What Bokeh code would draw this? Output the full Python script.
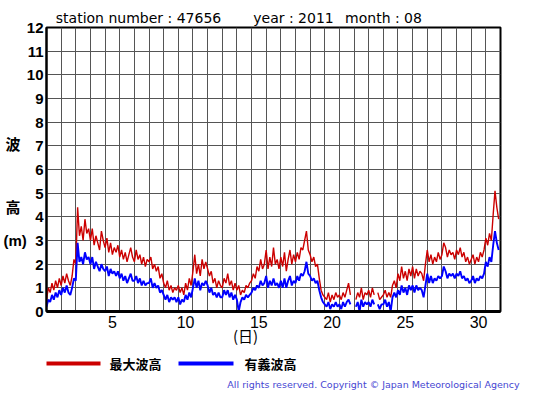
import numpy as np
from bokeh.plotting import figure
from bokeh.layouts import column
from bokeh.models import Range1d, FixedTicker, LinearAxis
from bokeh.core.properties import value
from bokeh.embed import file_html
from bokeh.resources import INLINE

nan = float("nan")

# 3-hourly values, one row per day (00,03,...,21h), August 2011, station 47656
max_wave = [
    0.5, 1.0, 0.8, 1.2, 0.9, 1.3, 1.0, 1.4,   # 1
    1.1, 1.5, 1.2, 1.6, 1.3, 1.1, 1.5, 2.2,   # 2
    2.0, 4.4, 3.2, 3.6, 3.0, 3.9, 3.3, 3.5,   # 3
    3.0, 3.5, 2.8, 3.2, 2.9, 2.6, 3.4, 3.0,   # 4
    2.7, 3.1, 2.5, 2.9, 2.4, 2.7, 2.5, 2.8,   # 5
    2.3, 2.6, 2.2, 2.5, 2.1, 2.4, 2.7, 2.3,   # 6
    2.1, 2.6, 2.2, 2.4, 2.0, 2.3, 1.9, 2.2,   # 7
    2.1, 2.3, 1.8, 2.0, 1.7, 1.9, 1.4, 1.6,   # 8
    1.2, 1.0, 1.3, 0.9, 1.1, 0.8, 1.0, 0.9,   # 9
    1.1, 0.8, 1.0, 0.7, 1.2, 0.9, 1.4, 1.1,   # 10
    1.7, 2.4, 1.6, 2.0, 1.5, 2.2, 1.8, 2.1,   # 11
    1.8, 1.5, 1.7, 1.2, 1.4, 1.0, 1.3, 1.1,   # 12
    1.0, 1.4, 1.2, 1.6, 1.1, 1.3, 0.9, 1.2,   # 13
    0.9, 1.1, 0.7, 0.9, 0.8, 1.1, 1.0, 1.2,   # 14
    1.3, 1.6, 1.4, 1.9, 1.7, 2.2, 1.8, 2.0,   # 15
    2.6, 1.8, 2.3, 1.9, 2.7, 2.0, 2.2, 1.8,   # 16
    2.3, 1.9, 2.5, 1.7, 2.2, 2.6, 2.0, 2.4,   # 17
    2.1, 2.5, 2.2, 2.7, 2.6, 3.0, 3.4, 2.6,   # 18
    2.4, 2.1, 2.3, 1.9, 2.0, 1.4, 0.9, 0.7,   # 19
    0.6, 0.5, 0.8, 0.4, 0.7, 0.5, 0.8, 0.6,   # 20
    0.7, 0.5, 0.8, 0.6, 0.9, 1.2, 0.7, nan,   # 21
    nan, 0.5, 0.8, 0.6, 1.0, 0.5, 0.8, 0.7,   # 22
    0.9, 0.6, 1.0, 0.7, nan, 0.8, 0.5, 0.6,   # 23
    0.7, 0.9, 0.6, 0.8, 0.6, 1.1, 1.3, 1.0,   # 24
    1.6, 1.3, 1.9, 1.4, 1.7, 1.3, 1.8, 1.5,   # 25
    1.9, 1.4, 1.8, 1.5, 1.7, 1.6, 1.3, 2.0,   # 26
    2.6, 2.1, 2.4, 2.0, 2.3, 2.1, 2.5, 2.2,   # 27
    2.4, 2.9, 2.7, 2.3, 2.6, 2.4, 2.5, 2.2,   # 28
    2.6, 2.4, 2.7, 2.3, 2.5, 2.1, 2.3, 2.0,   # 29
    2.2, 2.4, 2.0, 2.3, 2.1, 2.5, 2.3, 2.6,   # 30
    3.1, 2.8, 3.3, 3.0, 4.1, 5.1, 4.4, 3.9,   # 31
]
sig_wave = [
    0.2, 0.5, 0.4, 0.7, 0.5, 0.8, 0.6, 0.9,   # 1
    0.7, 1.0, 0.8, 1.1, 0.8, 0.7, 1.0, 1.4,   # 2
    1.3, 2.9, 2.1, 2.3, 2.0, 2.5, 2.2, 2.3,   # 3
    2.0, 2.3, 1.8, 2.1, 1.9, 1.7, 2.0, 1.8,   # 4
    1.7, 1.9, 1.5, 1.8, 1.6, 1.7, 1.5, 1.7,   # 5
    1.4, 1.6, 1.3, 1.5, 1.2, 1.4, 1.6, 1.3,   # 6
    1.3, 1.5, 1.2, 1.4, 1.1, 1.3, 1.1, 1.2,   # 7
    1.2, 1.4, 1.0, 1.2, 1.0, 1.1, 0.8, 0.9,   # 8
    0.7, 0.5, 0.7, 0.4, 0.6, 0.5, 0.6, 0.4,   # 9
    0.6, 0.3, 0.5, 0.4, 0.7, 0.5, 0.8, 0.6,   # 10
    1.0, 1.4, 1.0, 1.3, 0.9, 1.2, 1.1, 1.3,   # 11
    1.1, 0.8, 1.0, 0.7, 0.8, 0.6, 0.8, 0.6,   # 12
    0.6, 0.9, 0.7, 0.9, 0.6, 0.8, 0.5, 0.7,   # 13
    0.5, 0.0, 0.4, 0.6, 0.5, 0.7, 0.6, 0.7,   # 14
    0.8, 1.0, 0.9, 1.1, 1.0, 1.3, 1.1, 1.2,   # 15
    1.5, 1.0, 1.3, 1.1, 1.4, 1.1, 1.2, 1.0,   # 16
    1.3, 1.0, 1.4, 1.0, 1.3, 1.5, 1.1, 1.3,   # 17
    1.2, 1.5, 1.3, 1.6, 1.5, 1.7, 2.1, 1.6,   # 18
    1.5, 1.3, 1.4, 1.2, 1.3, 0.9, 0.6, 0.4,   # 19
    0.3, 0.2, 0.4, 0.1, 0.3, 0.2, 0.4, 0.2,   # 20
    0.3, 0.1, 0.4, 0.2, 0.4, 0.5, 0.3, nan,   # 21
    nan, 0.2, 0.4, 0.0, 0.5, 0.2, 0.4, 0.3,   # 22
    0.4, 0.2, 0.5, 0.3, nan, 0.3, 0.1, 0.3,   # 23
    0.3, 0.5, 0.2, 0.4, 0.0, 0.6, 0.8, 0.6,   # 24
    0.9, 0.7, 1.1, 0.8, 1.0, 0.7, 1.1, 0.9,   # 25
    1.1, 0.8, 1.1, 0.9, 1.0, 0.9, 0.6, 1.1,   # 26
    1.6, 1.2, 1.5, 1.2, 1.4, 1.3, 1.5, 1.4,   # 27
    1.5, 1.9, 1.7, 1.4, 1.6, 1.5, 1.6, 1.4,   # 28
    1.6, 1.5, 1.7, 1.4, 1.5, 1.3, 1.4, 1.2,   # 29
    1.3, 1.5, 1.2, 1.4, 1.3, 1.5, 1.4, 1.6,   # 30
    2.1, 1.9, 2.3, 2.1, 2.8, 3.4, 2.9, 2.6,   # 31
]
step_hours = 3
day_tick_labels = ["5", "10", "15", "20", "25", "30"]
wave_ticks = list(range(0, 13))
station = "47656"
year = "2011"
month = "08"
legend_names = ["最大波高", "有義波高"]
title_parts = ["station number : " + station, "year : " + year, "month : " + month]
y_title_parts = ["波", "高"]
y_unit = "(m)"
x_title = "(日)"
copyright_text = "All rights reserved. Copyright © Japan Meteorological Agency"

RED = "#cc0000"
BLUE = "#0000ff"
legend_colors = [RED, BLUE]

FW, FH = 454, 284
LEFT, RIGHT = 45, 56

# x = day of month, each day centred on its number (day 1 spans 0.5..1.5)
x = 0.5 + np.arange(len(max_wave)) * step_hours / 24.0

p = figure(frame_width=FW, frame_height=FH,
           min_border_left=LEFT, min_border_right=RIGHT,
           min_border_top=27, min_border_bottom=44,
           output_backend="svg", toolbar_location=None,
           x_range=Range1d(0.5, 31.5), y_range=Range1d(0, 12))
p.background_fill_color = "white"
p.border_fill_color = "white"
p.outline_line_color = "black"
p.outline_line_width = 2
# pixel-like helper ranges for the text rows around the frame
p.extra_x_ranges = {"px": Range1d(0, FW)}
p.extra_y_ranges = {"py": Range1d(0, FH)}

p.xaxis.ticker = FixedTicker(ticks=[int(s) for s in day_tick_labels])
p.yaxis.ticker = FixedTicker(ticks=wave_ticks)
# unit label shares the row of the "3" tick
p.yaxis.major_label_overrides = {3: y_unit + "\u00a0\u00a0" + "3"}
p.xgrid.ticker = FixedTicker(ticks=[d + 0.5 for d in range(1, 31)])
p.ygrid.ticker = FixedTicker(ticks=wave_ticks[1:-1])
for g in (p.xgrid, p.ygrid):
    g.grid_line_color = "#555555"
    g.grid_line_width = 1


def plain(ax):
    ax.major_tick_in = 0
    ax.major_tick_out = 0
    ax.minor_tick_line_color = None
    ax.major_tick_line_color = None
    ax.major_label_text_color = "black"


for ax in (p.xaxis[0], p.yaxis[0]):
    plain(ax)
    ax.axis_line_color = "black"
    ax.major_label_text_font = "Liberation Sans"

p.yaxis.axis_line_width = 2
p.yaxis.major_label_text_font_size = "15px"
p.yaxis.major_label_text_font_style = "bold"
p.yaxis.major_label_standoff = 3
p.xaxis.axis_line_width = 3
p.xaxis.major_label_text_font_size = "16px"
p.xaxis.major_label_standoff = 4


def text_axis(fig, pos, rng, ticks, labels, font, size, style="normal", color="black", standoff=2):
    kw = {}
    if rng is not None:
        kw = {"x_range_name": rng} if pos in ("above", "below") else {"y_range_name": rng}
    ax = LinearAxis(ticker=FixedTicker(ticks=ticks),
                    major_label_overrides={t: s for t, s in zip(ticks, labels)}, **kw)
    plain(ax)
    ax.axis_line_color = None
    ax.major_label_text_font = font
    ax.major_label_text_font_size = size
    ax.major_label_text_font_style = style
    ax.major_label_text_color = color
    ax.major_label_standoff = standoff
    fig.add_layout(ax, pos)
    return ax


# title row above the frame (label centres, px from frame left)
text_axis(p, "above", "px", [92, 247, 337], title_parts, "DejaVu Sans", "14px", standoff=2)
# vertical axis title (px above frame bottom)
text_axis(p, "left", "py", [168, 105], y_title_parts, "Noto Sans CJK JP", "15px",
          style="bold", standoff=-20)
# "(日)" under the day numbers
text_axis(p, "below", "px", [199], [x_title], "Noto Sans CJK JP", "15px", standoff=-6)

p.line(x, max_wave, line_color=RED, line_width=1.4)
p.line(x, sig_wave, line_color=BLUE, line_width=1.9)

# ---- strip under the chart: legend row (frame) and copyright (axis label)
# its frame lines up with the chart's frame; ranges are page pixels
p2 = figure(frame_width=FW, frame_height=16,
            min_border_left=LEFT, min_border_right=RIGHT,
            min_border_top=0, min_border_bottom=24,
            output_backend="svg", toolbar_location=None,
            x_range=Range1d(LEFT, LEFT + FW), y_range=Range1d(371, 355),
            x_axis_type=None, y_axis_type=None)
p2.outline_line_color = None
p2.background_fill_color = "white"
p2.border_fill_color = "white"
p2.xgrid.visible = False
p2.ygrid.visible = False

legend_row_y = 363
p2.segment(x0=[42, 177], y0=[legend_row_y] * 2, x1=[99, 232], y1=[legend_row_y] * 2,
           line_color=legend_colors, line_width=4)
p2.text(x=[108, 243], y=[legend_row_y] * 2, text=legend_names,
        text_font=value("Noto Sans CJK JP"), text_font_style="bold",
        text_font_size="13px", text_baseline="middle", text_color="black")
text_axis(p2, "below", None, [372], [copyright_text], "DejaVu Sans", "9.5px",
          color="#4646d2", standoff=7)

layout = column(p, p2, spacing=0)
open("out.html", "w").write(file_html(layout, INLINE))
